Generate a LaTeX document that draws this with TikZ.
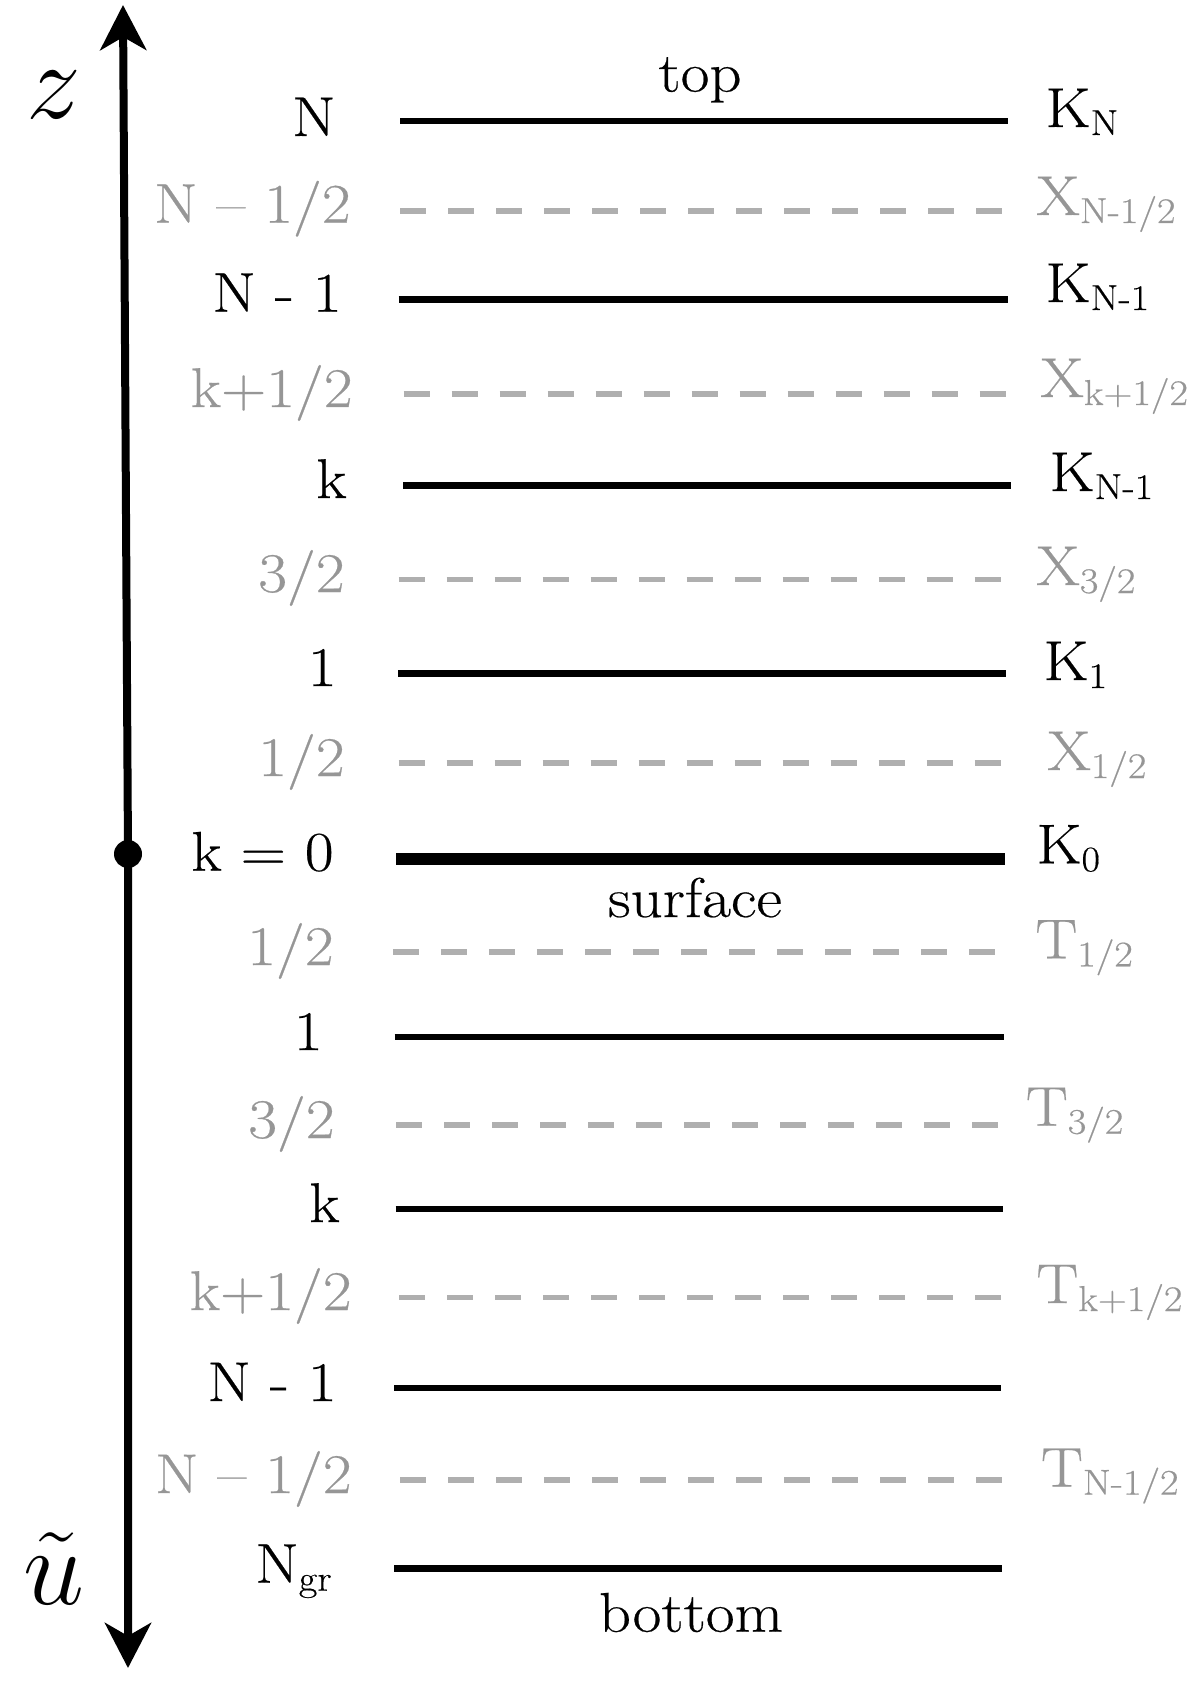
\documentclass[tikz,border=0pt]{standalone}
\usepackage{fontspec}
\setmainfont{Latin Modern Roman}[FakeStretch=1.12, FakeBold=0.4]
\usetikzlibrary{arrows.meta}
\definecolor{dashgray}{RGB}{175,175,175}
\definecolor{txtgray}{RGB}{150,150,150}
\newcommand{\lsub}[1]{\raisebox{-4pt}{\fontsize{18}{20}\selectfont #1}}
\tikzset{
  layer/.style={line width=3.3pt, black},
  half/.style={line width=2.8pt, dashgray, dash pattern=on 13pt off 11pt},
  surf/.style={line width=5.6pt, black},
  lab/.style={inner sep=0pt, font=\fontsize{28}{34}\selectfont},
  llab/.style={lab, anchor=base east},
  rlab/.style={lab, anchor=base west},
  glab/.style={text=txtgray},
  title/.style={lab, anchor=base},
  axlab/.style={inner sep=0pt, anchor=base, font=\Huge, scale=2.2},
  axis/.style={line width=4pt, black,
    {Stealth[length=22.5pt, width=23pt, inset=6.5pt]}-{Stealth[length=22.5pt, width=23pt, inset=6.5pt]}}
}
\begin{document}
\begin{tikzpicture}[x=0.5pt, y=-0.5pt]
\useasboundingbox (0,0) rectangle (1200,1689);

% axis
\coordinate (ztop) at (123,5);
\coordinate (dot) at (128,854);
\coordinate (ubot) at (128,1668);
\draw[axis] (ztop) -- (dot) -- (ubot);
\fill (dot) circle (7pt);
\node[axlab] (zlab) at (54,119) {$z$};
\node[axlab] (ulab) at (54,1604) {$\tilde{u}$};

% layer lines: name / left x / right x / y / style
\foreach \n/\a/\b/\y/\s in {
  l1/400/1008/121.1/layer,
  l2/400/1004/211/half,
  l3/398.6/1008/299.6/layer,
  l4/403.6/1007/394.3/half,
  l5/403/1011.4/485.4/layer,
  l6/398.6/1002.5/579.3/half,
  l7/398/1006/673.2/layer,
  l8/398.6/1002.5/763.2/half,
  l9/396.4/1005/858.9/surf,
  l10/392.9/996/952.1/half,
  l11/394.6/1003.6/1037.1/layer,
  l12/396.4/999.3/1125/half,
  l13/395.7/1002.7/1209/layer,
  l14/399/1000.7/1297.3/half,
  l15/394.3/1001/1388/layer,
  l16/400.3/1002.3/1480/half,
  l17/394.3/1001.7/1568.3/layer}{
  \coordinate (\n a) at (\a,\y);
  \coordinate (\n b) at (\b,\y);
  \draw[\s] (\n a) -- (\n b);
}

% titles
\node[title] (top) at (700,91.6) {top};
\node[title] (surface) at (695,917) {surface};
\node[title] (bottom) at (691,1631.7) {bottom};

% left labels
\node[llab] (a1) at (336,136) {N};
\node[llab,glab] (a2) at (351,222.7) {N -- 1/2};
\node[llab] (a3) at (342,311.7) {N - 1};
\node[llab,glab] (a4) at (353,407) {k+1/2};
\node[llab] (a5) at (347,498) {k};
\node[llab,glab] (a6) at (345,592) {3/2};
\node[llab] (a7) at (337,686) {1};
\node[llab,glab] (a8) at (345,776) {1/2};
\node[llab] (a9) at (334,870.7) {k = 0};
\node[llab,glab] (a10) at (334,965) {1/2};
\node[llab] (a11) at (323,1050) {1};
\node[llab,glab] (a12) at (335,1138) {3/2};
\node[llab] (a13) at (340,1222) {k};
\node[llab,glab] (a14) at (352,1310) {k+1/2};
\node[llab] (a15) at (337,1401) {N - 1};
\node[llab,glab] (a16) at (352,1493) {N -- 1/2};
\node[llab] (a17) at (332,1582.7) {N\lsub{gr}};

% right labels
\node[rlab] (b1) at (1045,127) {K\lsub{N}};
\node[rlab,glab] (b2) at (1036,215) {X\lsub{N-1/2}};
\node[rlab] (b3) at (1045,302) {K\lsub{N-1}};
\node[rlab,glab] (b4) at (1040,397) {X\lsub{k+1/2}};
\node[rlab] (b5) at (1049,491) {K\lsub{N-1}};
\node[rlab,glab] (b6) at (1036,585) {X\lsub{3/2}};
\node[rlab] (b7) at (1043,680) {K\lsub{1}};
\node[rlab,glab] (b8) at (1047,770) {X\lsub{1/2}};
\node[rlab] (b9) at (1036,863.3) {K\lsub{0}};
\node[rlab,glab] (b10) at (1035,958.3) {T\lsub{1/2}};
\node[rlab,glab] (b11) at (1025.5,1125.7) {T\lsub{3/2}};
\node[rlab,glab] (b12) at (1036,1303) {T\lsub{k+1/2}};
\node[rlab,glab] (b13) at (1040.6,1486.6) {T\lsub{N-1/2}};
\end{tikzpicture}
\end{document}
